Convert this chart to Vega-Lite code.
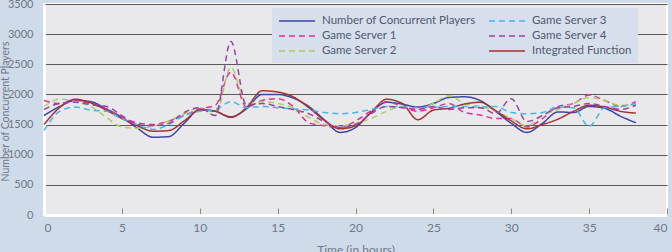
{
"$schema": "https://vega.github.io/schema/vega-lite/v6.json",
"width": 623, "height": 211,
"autosize": {"type": "none"},
"padding": {"left": 44, "top": 4, "right": 5, "bottom": 37},
"background": "#cfdbe9",
"config": {"view": {"fill": "#e9e9eb", "stroke": "#ffffff", "strokeWidth": 2}, "font": "Lato"},
"data": {"values": [
{"hour":0,"series":"Number of Concurrent Players","players":1650},{"hour":1,"series":"Number of Concurrent Players","players":1800},{"hour":2,"series":"Number of Concurrent Players","players":1900},{"hour":3,"series":"Number of Concurrent Players","players":1880},{"hour":4,"series":"Number of Concurrent Players","players":1760},{"hour":5,"series":"Number of Concurrent Players","players":1620},{"hour":6,"series":"Number of Concurrent Players","players":1440},{"hour":7,"series":"Number of Concurrent Players","players":1290},{"hour":8,"series":"Number of Concurrent Players","players":1300},{"hour":9,"series":"Number of Concurrent Players","players":1520},{"hour":10,"series":"Number of Concurrent Players","players":1750},{"hour":11,"series":"Number of Concurrent Players","players":1720},{"hour":12,"series":"Number of Concurrent Players","players":1630},{"hour":13,"series":"Number of Concurrent Players","players":1760},{"hour":14,"series":"Number of Concurrent Players","players":2000},{"hour":15,"series":"Number of Concurrent Players","players":2000},{"hour":16,"series":"Number of Concurrent Players","players":1940},{"hour":17,"series":"Number of Concurrent Players","players":1800},{"hour":18,"series":"Number of Concurrent Players","players":1580},{"hour":19,"series":"Number of Concurrent Players","players":1370},{"hour":20,"series":"Number of Concurrent Players","players":1450},{"hour":21,"series":"Number of Concurrent Players","players":1700},{"hour":22,"series":"Number of Concurrent Players","players":1870},{"hour":23,"series":"Number of Concurrent Players","players":1840},{"hour":24,"series":"Number of Concurrent Players","players":1790},{"hour":25,"series":"Number of Concurrent Players","players":1850},{"hour":26,"series":"Number of Concurrent Players","players":1950},{"hour":27,"series":"Number of Concurrent Players","players":1960},{"hour":28,"series":"Number of Concurrent Players","players":1900},{"hour":29,"series":"Number of Concurrent Players","players":1720},{"hour":30,"series":"Number of Concurrent Players","players":1520},{"hour":31,"series":"Number of Concurrent Players","players":1370},{"hour":32,"series":"Number of Concurrent Players","players":1520},{"hour":33,"series":"Number of Concurrent Players","players":1710},{"hour":34,"series":"Number of Concurrent Players","players":1700},{"hour":35,"series":"Number of Concurrent Players","players":1800},{"hour":36,"series":"Number of Concurrent Players","players":1770},{"hour":37,"series":"Number of Concurrent Players","players":1640},{"hour":38,"series":"Number of Concurrent Players","players":1530},
{"hour":0,"series":"Integrated Function","players":1500},{"hour":1,"series":"Integrated Function","players":1780},{"hour":2,"series":"Integrated Function","players":1920},{"hour":3,"series":"Integrated Function","players":1860},{"hour":4,"series":"Integrated Function","players":1740},{"hour":5,"series":"Integrated Function","players":1600},{"hour":6,"series":"Integrated Function","players":1480},{"hour":7,"series":"Integrated Function","players":1390},{"hour":8,"series":"Integrated Function","players":1400},{"hour":9,"series":"Integrated Function","players":1560},{"hour":10,"series":"Integrated Function","players":1740},{"hour":11,"series":"Integrated Function","players":1720},{"hour":12,"series":"Integrated Function","players":1620},{"hour":13,"series":"Integrated Function","players":1780},{"hour":14,"series":"Integrated Function","players":2060},{"hour":15,"series":"Integrated Function","players":2040},{"hour":16,"series":"Integrated Function","players":1960},{"hour":17,"series":"Integrated Function","players":1780},{"hour":18,"series":"Integrated Function","players":1570},{"hour":19,"series":"Integrated Function","players":1430},{"hour":20,"series":"Integrated Function","players":1480},{"hour":21,"series":"Integrated Function","players":1700},{"hour":22,"series":"Integrated Function","players":1920},{"hour":23,"series":"Integrated Function","players":1850},{"hour":24,"series":"Integrated Function","players":1580},{"hour":25,"series":"Integrated Function","players":1740},{"hour":26,"series":"Integrated Function","players":1770},{"hour":27,"series":"Integrated Function","players":1840},{"hour":28,"series":"Integrated Function","players":1870},{"hour":29,"series":"Integrated Function","players":1730},{"hour":30,"series":"Integrated Function","players":1560},{"hour":31,"series":"Integrated Function","players":1430},{"hour":32,"series":"Integrated Function","players":1500},{"hour":33,"series":"Integrated Function","players":1590},{"hour":34,"series":"Integrated Function","players":1720},{"hour":35,"series":"Integrated Function","players":1820},{"hour":36,"series":"Integrated Function","players":1790},{"hour":37,"series":"Integrated Function","players":1720},{"hour":38,"series":"Integrated Function","players":1690},
{"hour":0,"series":"Game Server 1","players":1900},{"hour":1,"series":"Game Server 1","players":1850},{"hour":2,"series":"Game Server 1","players":1900},{"hour":3,"series":"Game Server 1","players":1840},{"hour":4,"series":"Game Server 1","players":1760},{"hour":5,"series":"Game Server 1","players":1620},{"hour":6,"series":"Game Server 1","players":1530},{"hour":7,"series":"Game Server 1","players":1500},{"hour":8,"series":"Game Server 1","players":1560},{"hour":9,"series":"Game Server 1","players":1650},{"hour":10,"series":"Game Server 1","players":1760},{"hour":11,"series":"Game Server 1","players":1820},{"hour":12,"series":"Game Server 1","players":2370},{"hour":13,"series":"Game Server 1","players":1790},{"hour":14,"series":"Game Server 1","players":1900},{"hour":15,"series":"Game Server 1","players":1930},{"hour":16,"series":"Game Server 1","players":1800},{"hour":17,"series":"Game Server 1","players":1530},{"hour":18,"series":"Game Server 1","players":1480},{"hour":19,"series":"Game Server 1","players":1450},{"hour":20,"series":"Game Server 1","players":1560},{"hour":21,"series":"Game Server 1","players":1730},{"hour":22,"series":"Game Server 1","players":1880},{"hour":23,"series":"Game Server 1","players":1800},{"hour":24,"series":"Game Server 1","players":1720},{"hour":25,"series":"Game Server 1","players":1780},{"hour":26,"series":"Game Server 1","players":1850},{"hour":27,"series":"Game Server 1","players":1700},{"hour":28,"series":"Game Server 1","players":1660},{"hour":29,"series":"Game Server 1","players":1600},{"hour":30,"series":"Game Server 1","players":1600},{"hour":31,"series":"Game Server 1","players":1460},{"hour":32,"series":"Game Server 1","players":1600},{"hour":33,"series":"Game Server 1","players":1800},{"hour":34,"series":"Game Server 1","players":1850},{"hour":35,"series":"Game Server 1","players":1990},{"hour":36,"series":"Game Server 1","players":1900},{"hour":37,"series":"Game Server 1","players":1800},{"hour":38,"series":"Game Server 1","players":1880},
{"hour":0,"series":"Game Server 2","players":1800},{"hour":1,"series":"Game Server 2","players":1920},{"hour":2,"series":"Game Server 2","players":1880},{"hour":3,"series":"Game Server 2","players":1800},{"hour":4,"series":"Game Server 2","players":1620},{"hour":5,"series":"Game Server 2","players":1460},{"hour":6,"series":"Game Server 2","players":1440},{"hour":7,"series":"Game Server 2","players":1470},{"hour":8,"series":"Game Server 2","players":1560},{"hour":9,"series":"Game Server 2","players":1680},{"hour":10,"series":"Game Server 2","players":1780},{"hour":11,"series":"Game Server 2","players":1650},{"hour":12,"series":"Game Server 2","players":2450},{"hour":13,"series":"Game Server 2","players":1850},{"hour":14,"series":"Game Server 2","players":1880},{"hour":15,"series":"Game Server 2","players":1850},{"hour":16,"series":"Game Server 2","players":1780},{"hour":17,"series":"Game Server 2","players":1620},{"hour":18,"series":"Game Server 2","players":1500},{"hour":19,"series":"Game Server 2","players":1480},{"hour":20,"series":"Game Server 2","players":1520},{"hour":21,"series":"Game Server 2","players":1600},{"hour":22,"series":"Game Server 2","players":1720},{"hour":23,"series":"Game Server 2","players":1800},{"hour":24,"series":"Game Server 2","players":1750},{"hour":25,"series":"Game Server 2","players":1850},{"hour":26,"series":"Game Server 2","players":1980},{"hour":27,"series":"Game Server 2","players":1850},{"hour":28,"series":"Game Server 2","players":1800},{"hour":29,"series":"Game Server 2","players":1720},{"hour":30,"series":"Game Server 2","players":1600},{"hour":31,"series":"Game Server 2","players":1480},{"hour":32,"series":"Game Server 2","players":1650},{"hour":33,"series":"Game Server 2","players":1750},{"hour":34,"series":"Game Server 2","players":1850},{"hour":35,"series":"Game Server 2","players":1950},{"hour":36,"series":"Game Server 2","players":1900},{"hour":37,"series":"Game Server 2","players":1820},{"hour":38,"series":"Game Server 2","players":1820},
{"hour":0,"series":"Game Server 3","players":1400},{"hour":1,"series":"Game Server 3","players":1720},{"hour":2,"series":"Game Server 3","players":1790},{"hour":3,"series":"Game Server 3","players":1740},{"hour":4,"series":"Game Server 3","players":1720},{"hour":5,"series":"Game Server 3","players":1600},{"hour":6,"series":"Game Server 3","players":1500},{"hour":7,"series":"Game Server 3","players":1420},{"hour":8,"series":"Game Server 3","players":1500},{"hour":9,"series":"Game Server 3","players":1650},{"hour":10,"series":"Game Server 3","players":1720},{"hour":11,"series":"Game Server 3","players":1750},{"hour":12,"series":"Game Server 3","players":1880},{"hour":13,"series":"Game Server 3","players":1780},{"hour":14,"series":"Game Server 3","players":1800},{"hour":15,"series":"Game Server 3","players":1780},{"hour":16,"series":"Game Server 3","players":1760},{"hour":17,"series":"Game Server 3","players":1740},{"hour":18,"series":"Game Server 3","players":1700},{"hour":19,"series":"Game Server 3","players":1680},{"hour":20,"series":"Game Server 3","players":1700},{"hour":21,"series":"Game Server 3","players":1750},{"hour":22,"series":"Game Server 3","players":1800},{"hour":23,"series":"Game Server 3","players":1790},{"hour":24,"series":"Game Server 3","players":1780},{"hour":25,"series":"Game Server 3","players":1790},{"hour":26,"series":"Game Server 3","players":1800},{"hour":27,"series":"Game Server 3","players":1800},{"hour":28,"series":"Game Server 3","players":1790},{"hour":29,"series":"Game Server 3","players":1800},{"hour":30,"series":"Game Server 3","players":1700},{"hour":31,"series":"Game Server 3","players":1680},{"hour":32,"series":"Game Server 3","players":1700},{"hour":33,"series":"Game Server 3","players":1790},{"hour":34,"series":"Game Server 3","players":1780},{"hour":35,"series":"Game Server 3","players":1470},{"hour":36,"series":"Game Server 3","players":1780},{"hour":37,"series":"Game Server 3","players":1800},{"hour":38,"series":"Game Server 3","players":1850},
{"hour":0,"series":"Game Server 4","players":1750},{"hour":1,"series":"Game Server 4","players":1850},{"hour":2,"series":"Game Server 4","players":1870},{"hour":3,"series":"Game Server 4","players":1830},{"hour":4,"series":"Game Server 4","players":1800},{"hour":5,"series":"Game Server 4","players":1650},{"hour":6,"series":"Game Server 4","players":1500},{"hour":7,"series":"Game Server 4","players":1480},{"hour":8,"series":"Game Server 4","players":1520},{"hour":9,"series":"Game Server 4","players":1700},{"hour":10,"series":"Game Server 4","players":1780},{"hour":11,"series":"Game Server 4","players":1650},{"hour":12,"series":"Game Server 4","players":2880},{"hour":13,"series":"Game Server 4","players":1820},{"hour":14,"series":"Game Server 4","players":1850},{"hour":15,"series":"Game Server 4","players":1800},{"hour":16,"series":"Game Server 4","players":1750},{"hour":17,"series":"Game Server 4","players":1680},{"hour":18,"series":"Game Server 4","players":1550},{"hour":19,"series":"Game Server 4","players":1450},{"hour":20,"series":"Game Server 4","players":1500},{"hour":21,"series":"Game Server 4","players":1680},{"hour":22,"series":"Game Server 4","players":1800},{"hour":23,"series":"Game Server 4","players":1780},{"hour":24,"series":"Game Server 4","players":1750},{"hour":25,"series":"Game Server 4","players":1800},{"hour":26,"series":"Game Server 4","players":1750},{"hour":27,"series":"Game Server 4","players":1780},{"hour":28,"series":"Game Server 4","players":1780},{"hour":29,"series":"Game Server 4","players":1680},{"hour":30,"series":"Game Server 4","players":1930},{"hour":31,"series":"Game Server 4","players":1550},{"hour":32,"series":"Game Server 4","players":1650},{"hour":33,"series":"Game Server 4","players":1780},{"hour":34,"series":"Game Server 4","players":1800},{"hour":35,"series":"Game Server 4","players":1850},{"hour":36,"series":"Game Server 4","players":1800},{"hour":37,"series":"Game Server 4","players":1750},{"hour":38,"series":"Game Server 4","players":1820}
]},
"encoding": {
 "x": {"field": "hour", "type": "quantitative", "scale": {"domain": [0, 40], "nice": false},
   "axis": {"title": "Time (in hours)", "values": [0,5,10,15,20,25,30,35,40], "grid": false, "domainColor": "#ffffff", "domainWidth": 3, "tickColor": "#8a8a8a", "tickSize": -7, "tickWidth": 1, "labelColor": "#707888", "labelFontSize": 12, "labelPadding": 14, "titleColor": "#707888", "titleFontSize": 12, "titleFontWeight": "normal", "titlePadding": 11}},
 "y": {"field": "players", "type": "quantitative", "scale": {"domain": [0, 3500], "nice": false},
   "axis": {"title": "Number of Concurrent Players", "format": "d", "values": [0,500,1000,1500,2000,2500,3000,3500], "grid": true, "gridColor": "#5a5a5a", "gridWidth": 1, "ticks": false, "domainColor": "#ffffff", "domainWidth": 3, "labelColor": "#707888", "labelFontSize": 11, "labelPadding": 11, "titleColor": "#707888", "titleFontSize": 10.5, "titleFontWeight": "normal", "titleX": -34, "titleY": 107, "titleAngle": -90, "titleBaseline": "bottom", "titleAlign": "center"}}
},
"layer": [
 {"transform": [{"filter": {"field": "series", "oneOf": ["Number of Concurrent Players", "Game Server 1", "Game Server 2"]}}],
  "mark": {"type": "line", "interpolate": "monotone", "strokeWidth": 1.5},
  "encoding": {
   "color": {"field": "series", "type": "nominal", "scale": {"domain": ["Number of Concurrent Players", "Game Server 1", "Game Server 2"], "range": ["#3c46a8", "#e0309a", "#a8d060"]},
     "legend": {"orient": "none", "legendX": 228, "legendY": 4, "title": null, "fillColor": "#d6dfeb", "padding": 6, "symbolType": "M-1,0H5", "symbolSize": 144, "symbolStrokeWidth": 1.5, "labelFontSize": 11.5, "labelLimit": 260, "labelColor": "#505a70", "rowPadding": 2, "labelOffset": 30}},
   "strokeDash": {"field": "series", "type": "nominal", "scale": {"domain": ["Number of Concurrent Players", "Game Server 1", "Game Server 2"], "range": [[1,0],[6,4],[6,4]]},
     "legend": {"orient": "none", "legendX": 228, "legendY": 4, "title": null, "fillColor": "#d6dfeb", "padding": 6, "symbolType": "M-1,0H5", "symbolSize": 144, "symbolStrokeWidth": 1.5, "labelFontSize": 11.5, "labelLimit": 260, "labelColor": "#505a70", "rowPadding": 2, "labelOffset": 30}}
  }},
 {"transform": [{"filter": {"field": "series", "oneOf": ["Game Server 3", "Game Server 4", "Integrated Function"]}}],
  "mark": {"type": "line", "interpolate": "monotone", "strokeWidth": 1.5},
  "encoding": {
   "color": {"field": "series", "type": "nominal", "scale": {"domain": ["Game Server 3", "Game Server 4", "Integrated Function"], "range": ["#40b8e8", "#9a40a8", "#a83232"]},
     "legend": {"orient": "none", "legendX": 438, "legendY": 4, "title": null, "fillColor": "#d6dfeb", "padding": 6, "symbolType": "M-1,0H5", "symbolSize": 144, "symbolStrokeWidth": 1.5, "labelFontSize": 11.5, "labelLimit": 260, "labelColor": "#505a70", "rowPadding": 2, "labelOffset": 30}},
   "strokeDash": {"field": "series", "type": "nominal", "scale": {"domain": ["Game Server 3", "Game Server 4", "Integrated Function"], "range": [[6,4],[6,4],[1,0]]},
     "legend": {"orient": "none", "legendX": 438, "legendY": 4, "title": null, "fillColor": "#d6dfeb", "padding": 6, "symbolType": "M-1,0H5", "symbolSize": 144, "symbolStrokeWidth": 1.5, "labelFontSize": 11.5, "labelLimit": 260, "labelColor": "#505a70", "rowPadding": 2, "labelOffset": 30}}
  }}
],
"resolve": {"scale": {"color": "independent", "strokeDash": "independent"}}
}
